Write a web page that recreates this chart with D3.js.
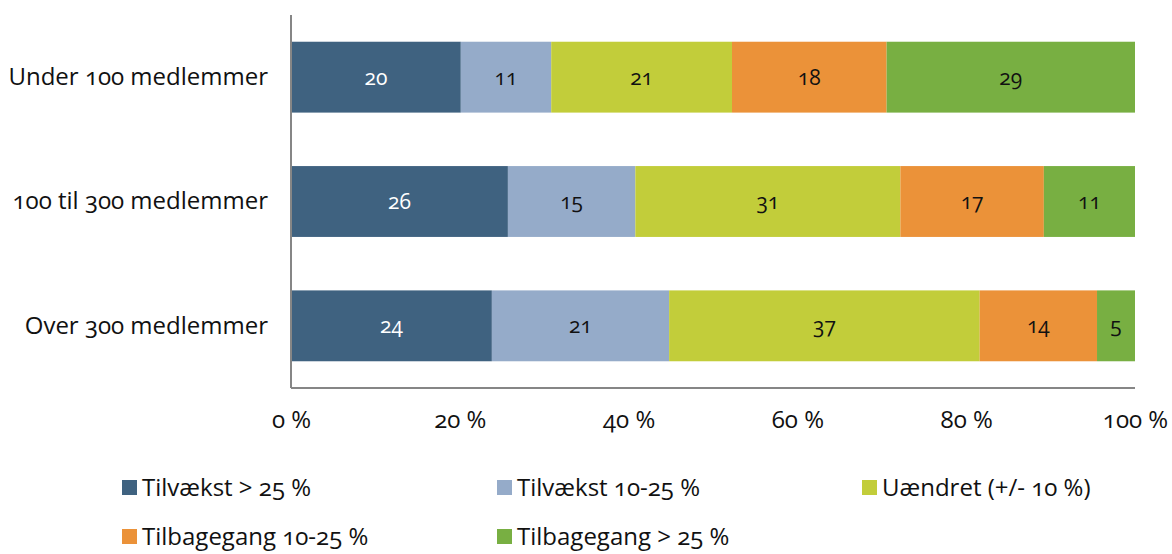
<!DOCTYPE html>
<html><head><meta charset="utf-8">
<script src="https://cdn.jsdelivr.net/npm/d3@7"></script>
<style>
body{margin:0;background:#fff;}
text{font-family:"Open Sans",Lato,sans-serif;font-variant-numeric:oldstyle-nums;font-feature-settings:"onum" 1;}
</style></head>
<body><svg id="c" width="1172" height="554"></svg>
<script>
const categories = ["Under 100 medlemmer", "100 til 300 medlemmer", "Over 300 medlemmer"];
const seriesNames = ["Tilvækst > 25 %", "Tilvækst 10-25 %", "Uændret (+/- 10 %)", "Tilbagegang 10-25 %", "Tilbagegang > 25 %"];
const seriesColors = ["#3F6280", "#95ABC9", "#C2CD3A", "#EB9239", "#78AF42"];
const labelColors = ["#ffffff", "#111", "#111", "#111", "#111"];
const growthHigh   = [20.1, 25.7, 23.8];
const growthMid    = [10.7, 15.1, 21.0];
const unchanged    = [21.4, 31.4, 36.8];
const declineMid   = [18.3, 17.0, 13.9];
const declineHigh  = [29.4, 10.8, 4.5];
const tickValues = [0, 0.2, 0.4, 0.6, 0.8, 1];
const tickLabels = ["0 %", "20 %", "40 %", "60 %", "80 %", "100 %"];

const seriesValues = [growthHigh, growthMid, unchanged, declineMid, declineHigh];
const rows = categories.map((c, i) => {
  const o = {cat: c};
  seriesNames.forEach((s, j) => o[s] = seriesValues[j][i]);
  return o;
});

const svg = d3.select("#c");
const mLeft = 291, mRight = 1135, mTop = 15, mBottom = 388;
const x = d3.scaleLinear().domain([0, 1]).range([mLeft, mRight]);
const y = d3.scaleBand().domain(categories).range([mTop, mBottom]).paddingInner(0.43).paddingOuter(0.215);

const stack = d3.stack().keys(seriesNames).offset(d3.stackOffsetExpand);
const stacked = stack(rows);

stacked.forEach((layer, j) => {
  const g = svg.append("g");
  g.selectAll("rect").data(layer).join("rect")
    .attr("x", d => x(d[0])).attr("width", d => x(d[1]) - x(d[0]))
    .attr("y", d => y(d.data.cat)).attr("height", y.bandwidth())
    .attr("fill", seriesColors[j]);
  g.selectAll("text").data(layer).join("text")
    .attr("x", d => (x(d[0]) + x(d[1])) / 2)
    .attr("y", d => y(d.data.cat) + y.bandwidth() / 2)
    .attr("dy", "0.36em").attr("text-anchor", "middle")
    .attr("font-size", 21).attr("fill", labelColors[j])
    .text(d => Math.round(d.data[layer.key]));
});

svg.append("line").attr("x1", mLeft).attr("x2", mLeft).attr("y1", mTop).attr("y2", mBottom)
  .attr("stroke", "#868686").attr("stroke-width", 2);
svg.append("line").attr("x1", mLeft).attr("x2", mRight).attr("y1", mBottom).attr("y2", mBottom)
  .attr("stroke", "#868686").attr("stroke-width", 2);

const xa = svg.append("g").attr("transform", `translate(0,${mBottom})`)
  .call(d3.axisBottom(x).tickValues(tickValues).tickFormat((d, i) => tickLabels[i]).tickSize(0).tickPadding(23));
xa.select(".domain").remove();
xa.selectAll("text").attr("font-size", 24).attr("fill", "#111").attr("font-family", null);

const ya = svg.append("g").attr("transform", `translate(${mLeft},0)`)
  .call(d3.axisLeft(y).tickSize(0).tickPadding(23));
ya.select(".domain").remove();
ya.selectAll("text").attr("font-size", 24).attr("fill", "#111").attr("font-family", null);

const legPos = [[122, 487], [497, 487], [862, 487], [122, 536], [497, 536]];
seriesNames.forEach((s, j) => {
  const [lx, ly] = legPos[j];
  svg.append("rect").attr("x", lx).attr("y", ly - 7).attr("width", 15).attr("height", 15).attr("fill", seriesColors[j]);
  svg.append("text").attr("x", lx + 20).attr("y", ly).attr("dy", "0.36em")
    .attr("font-size", 24).attr("fill", "#111").text(s);
});
</script></body></html>
